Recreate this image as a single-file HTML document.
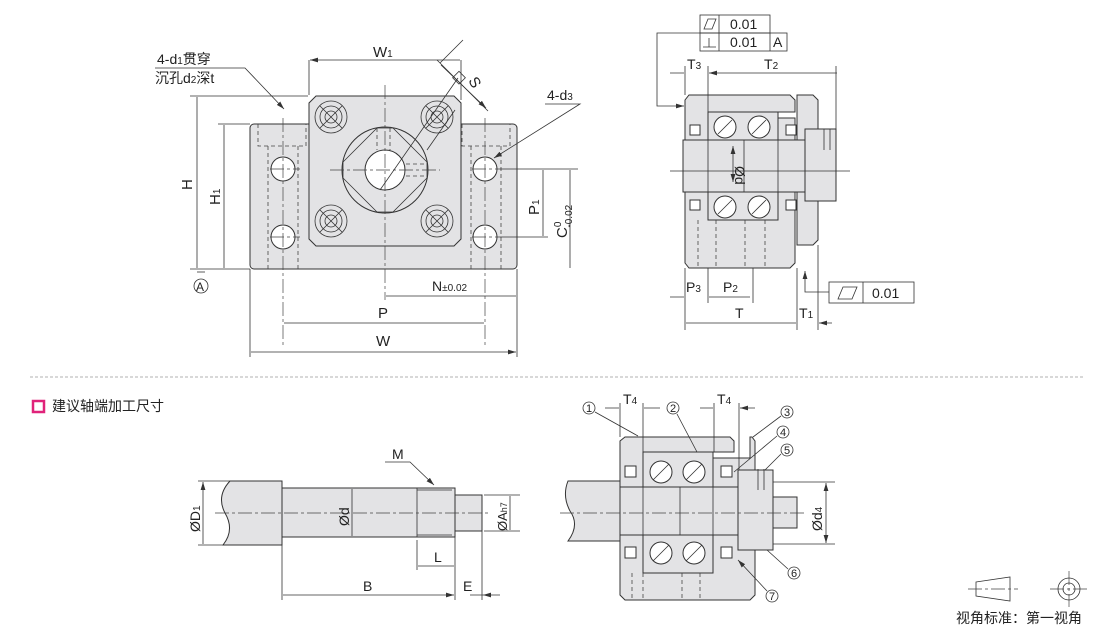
<!DOCTYPE html>
<html><head><meta charset="utf-8"><style>
body{margin:0;background:#fff}
svg{display:block}
text{font-family:"Liberation Sans","Noto Sans CJK SC",sans-serif;fill:#222}
.o{fill:#e3e3e5;stroke:#333;stroke-width:1}
.l{stroke:#333;stroke-width:0.8;fill:none}
.d{stroke:#444;stroke-width:0.8;fill:none;stroke-dasharray:4 3}
.c{stroke:#444;stroke-width:0.7;fill:none;stroke-dasharray:14 3 3 3}
.w{fill:#fff;stroke:#333;stroke-width:1}
</style></head><body>
<svg width="1110" height="630" viewBox="0 0 1110 630">
<defs><marker id="a" viewBox="0 0 10 6" refX="10" refY="3" markerWidth="10" markerHeight="6" orient="auto-start-reverse"><path d="M0,0L10,3L0,6z" fill="#333"/></marker></defs>

<!-- FRONT VIEW -->
<rect class="o" x="250" y="124" width="267" height="145" rx="4"/>
<path class="d" d="M258 124V146H306V124M462 124V146H510V124M268 146V269M298 146V269M471 146V269M501 146V269"/>
<path class="o" d="M316 96H454L461 103V239L454 246H316L309 239V103Z" stroke-width="1.6"/>
<circle class="o" cx="385" cy="170" r="43"/>
<path class="l" d="M377 128H393L427 162V178L393 212H377L343 178V162Z"/>
<path class="d" d="M377 128V150M390 128V150M406 164H427M406 176H427"/>
<circle class="w" cx="385" cy="170" r="20"/>
<g class="l">
<circle cx="331" cy="117" r="16"/><circle cx="331" cy="117" r="11"/><circle cx="331" cy="117" r="6"/>
<circle cx="437" cy="117" r="16"/><circle cx="437" cy="117" r="11"/><circle cx="437" cy="117" r="6"/>
<circle cx="331" cy="221" r="16"/><circle cx="331" cy="221" r="11"/><circle cx="331" cy="221" r="6"/>
<circle cx="437" cy="221" r="16"/><circle cx="437" cy="221" r="11"/><circle cx="437" cy="221" r="6"/>
<path d="M320 106L342 128M342 106L320 128M426 106L448 128M448 106L426 128M320 210L342 232M342 210L320 232M426 210L448 232M448 210L426 232"/>
</g>
<circle class="w" cx="283" cy="169" r="12"/><circle class="w" cx="283" cy="237" r="12"/>
<circle class="w" cx="485" cy="169" r="12"/><circle class="w" cx="485" cy="237" r="12"/>
<path class="c" d="M385 85V300M330 170H440M283 118V345M485 118V345M270 169H300M270 237H300M472 169H500M472 237H500"/>
<!-- dims front -->
<path class="l" d="M309 60V95M461 60V100M250 269V357M517 269V357M190 96H308M190 269H250M218 124H250M500 169H578M500 237H548"/>
<path class="l" marker-start="url(#a)" marker-end="url(#a)" d="M310 60H460M197 97V268M224 125V268M543 170V236M570 170V268M386 296H516M284 323H484M251 352H516"/>
<path class="l" marker-end="url(#a)" d="M441 65L486 108"/>
<path class="l" d="M437 60L488 111M463 40L440 63M380 190L458 78M455 110L427 150"/>
<text x="373" y="57" font-size="15">W<tspan font-size="10">1</tspan></text>
<rect x="455" y="73" width="9" height="9" fill="none" stroke="#333" stroke-width="0.8" transform="rotate(45 459 77)"/>
<text x="466" y="84" font-size="15" transform="rotate(60 470 84)">S</text>
<text x="192" y="190" font-size="15" transform="rotate(-90 192 190)">H</text>
<text x="220" y="205" font-size="15" transform="rotate(-90 220 205)">H<tspan font-size="10">1</tspan></text>
<text x="539" y="215" font-size="15" transform="rotate(-90 539 215)">P<tspan font-size="10">1</tspan></text>
<text x="567" y="238" font-size="15" transform="rotate(-90 567 238)">C<tspan font-size="10" dy="-6">0</tspan><tspan font-size="10" dx="-6" dy="11">-0.02</tspan></text>
<text x="432" y="291" font-size="14">N<tspan font-size="10">±0.02</tspan></text>
<text x="378" y="318" font-size="15">P</text>
<text x="376" y="346" font-size="15">W</text>
<text x="157" y="64" font-size="14">4-d<tspan font-size="10">1</tspan>贯穿</text>
<text x="155" y="83" font-size="14">沉孔d<tspan font-size="10">2</tspan>深t</text>
<path class="l" d="M155 68H245L284 109" marker-end="url(#a)"/>
<text x="547" y="100" font-size="14">4-d<tspan font-size="10">3</tspan></text>
<path class="l" d="M545 104H580L494 158" marker-end="url(#a)"/>
<path class="l" d="M197 272H205"/>
<circle class="l" cx="201" cy="286" r="7"/><text x="196" y="291" font-size="12">A</text>

<!-- SIDE VIEW -->
<path class="o" d="M689 95H790L795 100V112H732V118H795V263L790 268H689L685 263V100Z"/>
<path class="o" d="M797 95H813L818 100V240L813 245H797Z"/>
<rect class="o" x="708" y="112" width="70" height="108"/>
<rect class="o" x="683" y="140" width="130" height="52"/>
<rect class="o" x="805" y="129" width="31" height="72"/>
<path class="l" d="M824 129V150M830 129V150M708 140V192M744 140V192M778 140V192"/>
<circle class="w" cx="725" cy="127" r="11"/><circle class="w" cx="759" cy="127" r="11"/>
<circle class="w" cx="725" cy="207" r="11"/><circle class="w" cx="759" cy="207" r="11"/>
<path class="l" d="M718 134L732 120M752 134L766 120M718 214L732 200M752 214L766 200"/>
<rect class="w" x="690" y="125" width="10" height="10"/><rect class="w" x="786" y="125" width="10" height="10"/>
<rect class="w" x="690" y="200" width="10" height="10"/><rect class="w" x="786" y="200" width="10" height="10"/>
<path class="d" d="M698 220V268M716 220V268M745 220V268M765 220V268"/>
<path class="l" d="M670 171H850"/>
<path class="l" marker-start="url(#a)" marker-end="url(#a)" d="M733 146V182"/>
<text x="735" y="178" font-size="14" transform="rotate(90 735 178)" dx="-12">Ød</text>
<path class="l" d="M685 66V95M708 66V112M836 66V130M685 268V330M708 268V303M753 268V303M797 268V330M818 245V330"/>
<path class="l" marker-end="url(#a)" d="M670 73H684M750 73H709M837 73H709"/>
<path class="l" marker-end="url(#a)" d="M670 297H684M750 297H709M686 323H796M832 323H819"/>
<text x="687" y="69" font-size="14">T<tspan font-size="10">3</tspan></text>
<text x="764" y="69" font-size="14">T<tspan font-size="10">2</tspan></text>
<text x="686" y="292" font-size="14">P<tspan font-size="10">3</tspan></text>
<text x="723" y="292" font-size="14">P<tspan font-size="10">2</tspan></text>
<text x="735" y="318" font-size="14">T</text>
<text x="799" y="318" font-size="14">T<tspan font-size="10">1</tspan></text>
<g class="l"><rect x="700" y="15" width="70" height="18"/><rect x="700" y="33" width="87" height="18"/><path d="M719 15V51M770 33V51"/></g>
<path class="l" d="M704 29L708 19H716L712 29Z"/><path class="l" d="M703 47H716M709 38V47"/>
<text x="730" y="29" font-size="14">0.01</text><text x="730" y="47" font-size="14">0.01</text><text x="773" y="47" font-size="14">A</text>
<path class="l" d="M700 33H657V106H684" marker-end="url(#a)"/>
<rect class="l" x="829" y="282" width="85" height="21"/><path class="l" d="M863 282V303M838 299L843 287H857L852 299Z"/>
<text x="872" y="298" font-size="14">0.01</text>
<path class="l" d="M829 292H805V271" marker-end="url(#a)"/>

<!-- separator -->
<path d="M30 377H1085" stroke="#999" stroke-width="0.8" stroke-dasharray="3 2"/>
<rect x="33" y="401" width="11" height="11" fill="#fff" stroke="#e0237a" stroke-width="2.5"/>
<text x="52" y="411" font-size="14">建议轴端加工尺寸</text>

<!-- SHAFT -->
<path class="o" d="M230 481H282V545H223Q235 530 225 513Q216 496 230 481Z"/>
<rect class="o" x="282" y="488" width="173" height="49"/>
<path class="l" d="M417 488V537M455 488V537M417 490H452M417 535H452"/>
<rect class="o" x="455" y="495" width="27" height="36"/>
<path class="c" d="M215 513H490"/>
<path class="l" d="M198 481H230M198 545H225M484 495H520M484 531H520M282 540V600M417 540V570M455 537V600M482 531V600"/>
<path class="l" marker-start="url(#a)" marker-end="url(#a)" d="M203 482V544M352 489V536M510 496V530M418 566H454M283 595H454"/>
<path class="l" marker-end="url(#a)" d="M470 595H483M500 595H483"/>
<text x="200" y="532" font-size="14" transform="rotate(-90 200 532)">ØD<tspan font-size="10">1</tspan></text>
<text x="349" y="526" font-size="14" transform="rotate(-90 349 526)">Ød</text>
<text x="507" y="531" font-size="13" transform="rotate(-90 507 531)">ØA<tspan font-size="9">h7</tspan></text>
<text x="434" y="562" font-size="14">L</text><text x="363" y="591" font-size="14">B</text><text x="463" y="591" font-size="14">E</text>
<text x="392" y="459" font-size="14">M</text>
<path class="l" d="M385 462H410L434 485" marker-end="url(#a)"/>

<!-- ASSEMBLY -->
<path class="o" d="M625 437H730L734 441V452H643V458H750V437H752L755 441V595L750 600H625L620 595V441Z"/>
<rect class="o" x="643" y="452" width="70" height="121"/>
<path class="o" d="M568 481H620V541H568Q580 525 570 511Q562 496 568 481Z"/>
<rect class="o" x="620" y="487" width="153" height="48"/>
<rect class="o" x="738" y="470" width="35" height="80"/>
<rect class="o" x="773" y="497" width="24" height="31"/>
<path class="l" d="M758 469V490M764 469V490M680 487V535M643 487V535M713 487V535"/>
<circle class="w" cx="661" cy="472" r="11"/><circle class="w" cx="694" cy="472" r="11"/>
<circle class="w" cx="661" cy="553" r="11"/><circle class="w" cx="694" cy="553" r="11"/>
<path class="l" d="M653 480L669 464M686 480L702 464M653 561L669 545M686 561L702 545"/>
<rect class="w" x="625" y="466" width="11" height="11"/><rect class="w" x="721" y="466" width="11" height="11"/>
<rect class="w" x="625" y="547" width="11" height="11"/><rect class="w" x="721" y="547" width="11" height="11"/>
<path class="d" d="M632 573V600M643 573V600M682 573V600M700 573V600"/>
<path class="c" d="M560 513H805"/>
<path class="l" d="M620 403V437M643 403V452M714 403V452M739 403V470M773 482H835M773 544H835"/>
<path class="l" marker-end="url(#a)" d="M605 408H619M660 408H644M700 408H713M755 408H740"/>
<path class="l" marker-start="url(#a)" marker-end="url(#a)" d="M826 483V543"/>
<text x="623" y="404" font-size="14">T<tspan font-size="10">4</tspan></text>
<text x="717" y="404" font-size="14">T<tspan font-size="10">4</tspan></text>
<text x="822" y="531" font-size="14" transform="rotate(-90 822 531)">Ød<tspan font-size="10">4</tspan></text>
<g font-size="11">
<circle class="l" cx="589" cy="408" r="6"/><text x="586" y="412">1</text>
<circle class="l" cx="673" cy="408" r="6"/><text x="670" y="412">2</text>
<circle class="l" cx="787" cy="412" r="6"/><text x="784" y="416">3</text>
<circle class="l" cx="783" cy="432" r="6"/><text x="780" y="436">4</text>
<circle class="l" cx="787" cy="450" r="6"/><text x="784" y="454">5</text>
<circle class="l" cx="794" cy="573" r="6"/><text x="791" y="577">6</text>
<circle class="l" cx="772" cy="596" r="6"/><text x="769" y="600">7</text>
</g>
<path class="l" marker-end="url(#a)" d="M595 412L638 436M677 414L697 452M781 416L753 437M777 436L734 472M781 454L765 470M788 569L767 550M767 591L738 560"/>

<!-- projection symbol -->
<path class="l" d="M976 582L1010 577V601L976 596Z"/>
<path class="c" d="M968 589H1018M1069 571V607M1050 589H1088"/>
<circle class="l" cx="1069" cy="589" r="11"/><circle class="l" cx="1069" cy="589" r="6"/>
<text x="956" y="623" font-size="14">视角标准：第一视角</text>
</svg>
</body></html>
